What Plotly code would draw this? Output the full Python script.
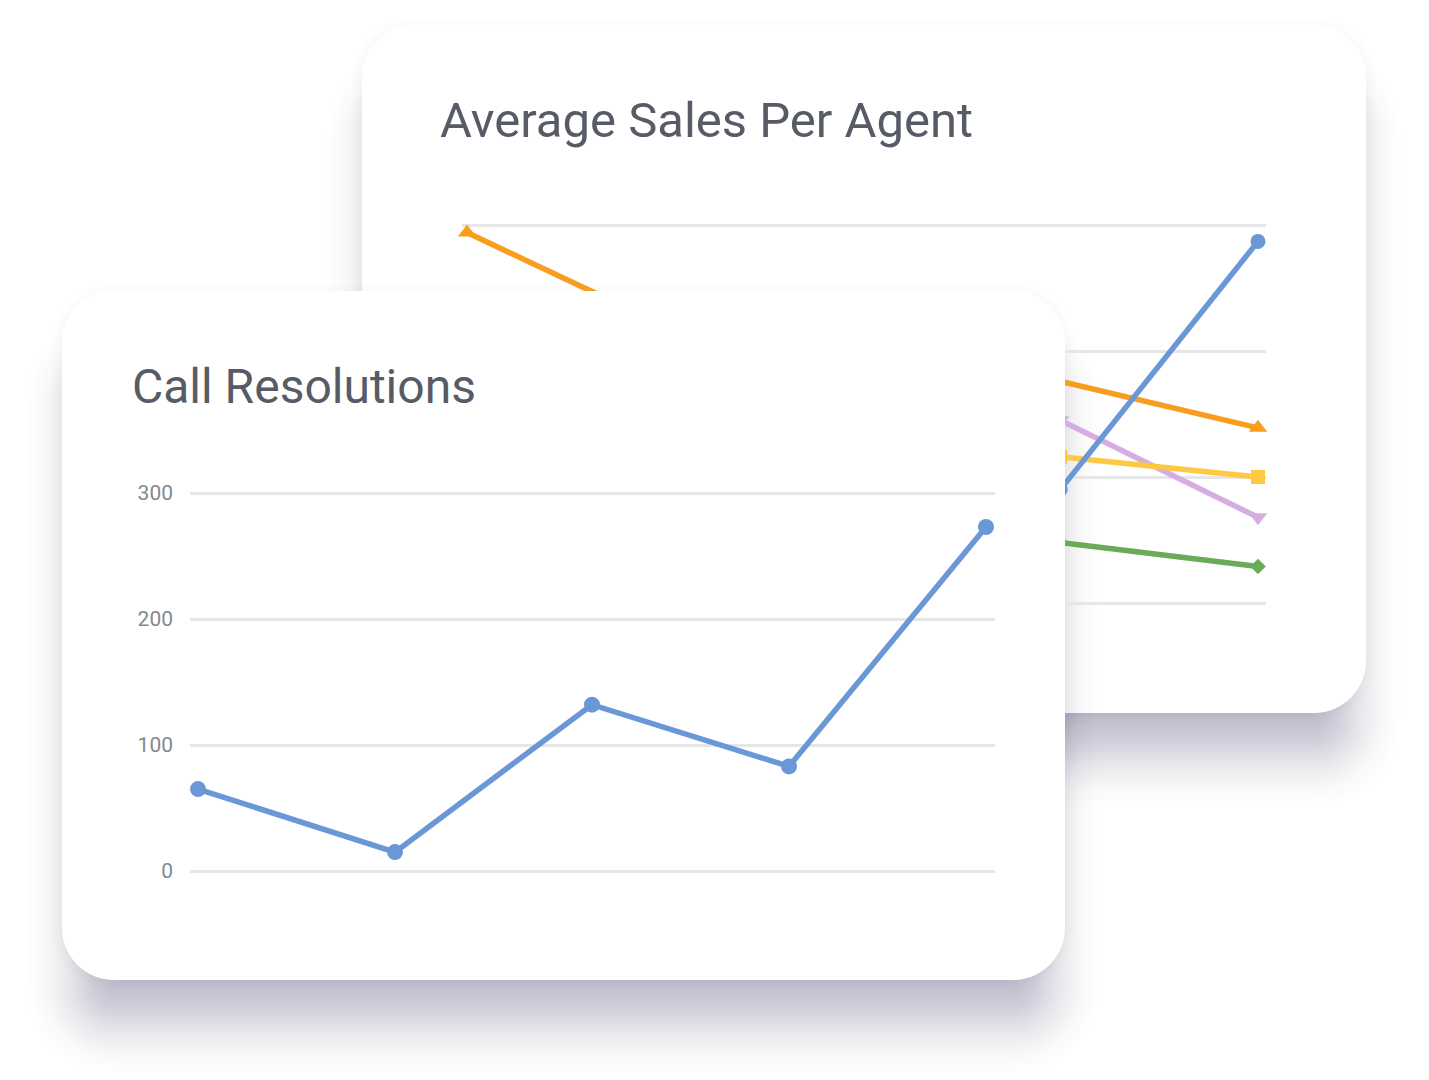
import math
import plotly.graph_objects as go

W, H = 1429, 1080          # browser window
OFF = 8                    # default body margin of the html page
FW, FH = W - 2 * OFF, H - 2 * OFF   # figure size

# ---------------- data ----------------
periods = ["P1", "P2", "P3", "P4", "P5"]

# Average Sales Per Agent (back card)
sales_blue = [120, 150, 110, 90, 287]
sales_orange = [294, 220, 190, 176, 139]
sales_yellow = [140, 130, 125, 116, 100]
sales_purple = [160, 170, 150, 145, 68]
sales_green = [70, 60, 55, 48, 29]

# Call Resolutions (front card)
call_resolutions = [65, 15, 132, 83, 273]

y_ticks = [0, 100, 200, 300]
y_tick_labels = ["0", "100", "200", "300"]

# ---------------- style ----------------
BLUE = "#6a97d6"
ORANGE = "#f99d1f"
YELLOW = "#fec843"
PURPLE = "#d5ade3"
GREEN = "#69ab57"
GRID = "#e6e6e8"
TITLE = "#565b66"
TICK = "#85888f"
FONT = "Roboto"

# card geometry in window pixels
BACK = (362, 25, 1366, 713)
FRONT = (62, 291, 1065, 980)
RADIUS = 52


def px_x(p):
    return (p - OFF) / FW


def px_y(p):
    return 1 - (p - OFF) / FH


def rr_path(x0, y0, x1, y1, r, paper=True):
    r = max(r, 1.0)
    k = 0.5523 * r
    pts = [
        ("M", [(x0 + r, y0)]),
        ("L", [(x1 - r, y0)]),
        ("C", [(x1 - r + k, y0), (x1, y0 + r - k), (x1, y0 + r)]),
        ("L", [(x1, y1 - r)]),
        ("C", [(x1, y1 - r + k), (x1 - r + k, y1), (x1 - r, y1)]),
        ("L", [(x0 + r, y1)]),
        ("C", [(x0 + r - k, y1), (x0, y1 - r + k), (x0, y1 - r)]),
        ("L", [(x0, y0 + r)]),
        ("C", [(x0, y0 + r - k), (x0 + r - k, y0), (x0 + r, y0)]),
    ]
    out = []
    for cmd, ps in pts:
        coords = []
        for (a, b) in ps:
            if paper:
                coords.append(f"{px_x(a):.6f},{px_y(b):.6f}")
            else:
                coords.append(f"{a:.2f},{b:.2f}")
        out.append(cmd + " " + " ".join(coords))
    return " ".join(out) + " Z"


def shadow_shapes(card, inset=12, dy=58, sigma=25, amax=0.285, step=3.0):
    """Soft drop shadow built from stacked translucent rounded rectangles."""
    x0, y0, x1, y1 = card
    sx0, sy0, sx1, sy1 = x0 + inset, y0 + inset + dy, x1 - inset, y1 - inset + dy
    es = []
    e = 3.2 * sigma
    while e >= -2.6 * sigma:
        es.append(e)
        e -= step

    def target(v):
        return amax * (1 - 0.5 * (1 + math.erf(v / (sigma * math.sqrt(2)))))

    shapes = []
    prev = 0.0
    for e in es:
        t = target(e)
        a = 1 - (1 - t) / (1 - prev)
        prev = t
        if a <= 0.0005:
            continue
        shapes.append(dict(
            type="path", xref="paper", yref="paper", layer="below",
            path=rr_path(sx0 - e, sy0 - e, sx1 + e, sy1 + e, RADIUS - inset + e),
            fillcolor=f"rgba(55,58,112,{a:.4f})", line=dict(width=0),
        ))
    return shapes


def card_shadow(card):
    return (shadow_shapes(card, inset=0, dy=3, sigma=9, amax=0.07, step=2.0)
            + shadow_shapes(card))


def axis_map(p0, p1, v_at_p):
    return [v_at_p(p0), v_at_p(p1)]


fig = go.Figure()

# ---------- back chart (xy) ----------
back_series = [
    (sales_orange, ORANGE, "triangle-up", 16),
    (sales_green, GREEN, "diamond", 12),
    (sales_purple, PURPLE, "triangle-down", 16),
    (sales_yellow, YELLOW, "square", 14),
    (sales_blue, BLUE, "circle", 15),
]
for vals, col, sym, sz in back_series:
    fig.add_trace(go.Scatter(
        x=periods, y=vals, mode="lines+markers", xaxis="x", yaxis="y",
        line=dict(color=col, width=5.5), marker=dict(color=col, symbol=sym, size=sz),
        cliponaxis=False, hoverinfo="skip", showlegend=False,
    ))

# ---------- card host (x2y2) ----------
fig.add_trace(go.Scatter(x=[None], y=[None], xaxis="x2", yaxis="y2",
                         hoverinfo="skip", showlegend=False))

# ---------- front chart (x3y3) ----------
fig.add_trace(go.Scatter(
    x=periods, y=call_resolutions, mode="lines+markers", xaxis="x3", yaxis="y3",
    line=dict(color=BLUE, width=5.5), marker=dict(color=BLUE, size=16),
    cliponaxis=False, hoverinfo="skip", showlegend=False,
))

# axis geometry (pixel anchors)
bx0, bx1 = 462, 1266     # back plot area
b_first, b_last = 467, 1258
b_step = (b_last - b_first) / (len(periods) - 1)
by_top, by_bot = 205, 640
b_zero, b_scale = 603, 1.26

fx0, fx1 = 190, 995
f_first, f_last = 198, 986
f_step = (f_last - f_first) / (len(periods) - 1)
fy_top, fy_bot = 440, 905
f_zero, f_scale = 871, 1.26

hidden = dict(visible=False, fixedrange=True)

fig.update_layout(
    width=FW, height=FH,
    margin=dict(l=0, r=0, t=0, b=0),
    paper_bgcolor="white",
    plot_bgcolor="rgba(0,0,0,0)",
    showlegend=False,
    xaxis=dict(domain=[px_x(bx0), px_x(bx1)], anchor="y", type="category",
               range=axis_map(bx0, bx1, lambda p: (p - b_first) / b_step),
               showgrid=False, zeroline=False, showticklabels=False, showline=False,
               fixedrange=True),
    yaxis=dict(domain=[px_y(by_bot), px_y(by_top)], anchor="x",
               range=axis_map(by_bot, by_top, lambda p: (b_zero - p) / b_scale),
               tickvals=y_ticks, showticklabels=False, showgrid=True,
               gridcolor=GRID, gridwidth=2.5, zeroline=False, showline=False,
               fixedrange=True),
    xaxis2=dict(domain=[0, 1], anchor="y2", range=[OFF, OFF + FW], **hidden),
    yaxis2=dict(domain=[0, 1], anchor="x2", range=[OFF + FH, OFF], **hidden),
    xaxis3=dict(domain=[px_x(fx0), px_x(fx1)], anchor="y3", type="category",
                range=axis_map(fx0, fx1, lambda p: (p - f_first) / f_step),
                showgrid=False, zeroline=False, showticklabels=False, showline=False,
                fixedrange=True),
    yaxis3=dict(domain=[px_y(fy_bot), px_y(fy_top)], anchor="x3",
                range=axis_map(fy_bot, fy_top, lambda p: (f_zero - p) / f_scale),
                tickvals=y_ticks, ticktext=y_tick_labels, ticks="",
                ticklabelstandoff=16,
                tickfont=dict(family=FONT, size=21, color=TICK),
                showgrid=True, gridcolor=GRID, gridwidth=2.5, zeroline=False,
                showline=False, fixedrange=True),
)

shapes = []
shapes += card_shadow(BACK)
shapes.append(dict(type="path", xref="paper", yref="paper", layer="below",
                   path=rr_path(*BACK, RADIUS), fillcolor="white", line=dict(width=0)))
shapes += card_shadow(FRONT)
# front card lives in the x2y2 subplot so it covers the back chart's lines
shapes.append(dict(type="path", xref="x2", yref="y2", layer="below",
                   path=rr_path(*FRONT, RADIUS, paper=False), fillcolor="white",
                   line=dict(width=0)))
fig.update_layout(shapes=shapes)

fig.add_annotation(text="Average Sales Per Agent", x=px_x(438), y=px_y(121),
                   xref="paper", yref="paper", xanchor="left", yanchor="middle",
                   showarrow=False, font=dict(family=FONT, size=49, color=TITLE))
fig.add_annotation(text="Call Resolutions", x=px_x(130), y=px_y(386),
                   xref="paper", yref="paper", xanchor="left", yanchor="middle",
                   showarrow=False, font=dict(family=FONT, size=48, color=TITLE))

fig.write_html("out.html", config=dict(displayModeBar=False))
